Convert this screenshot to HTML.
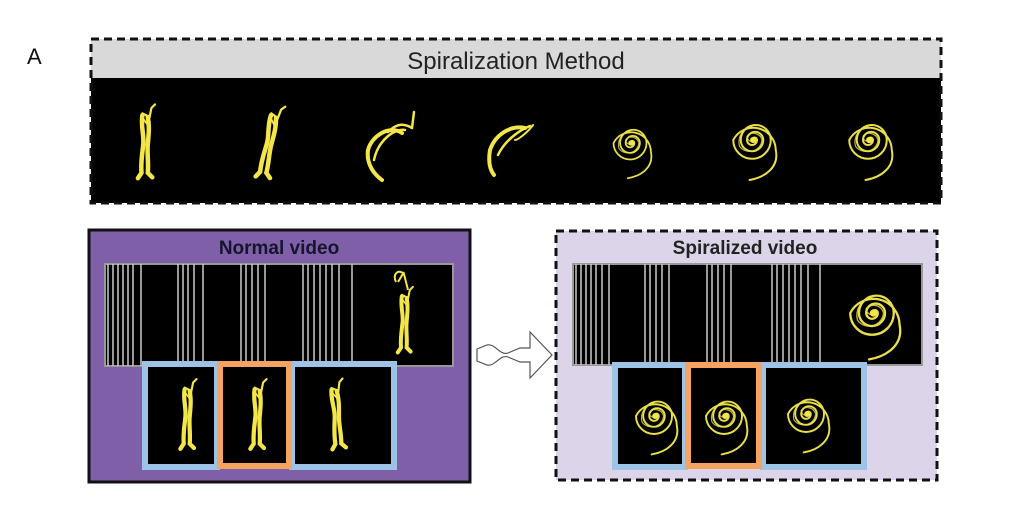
<!DOCTYPE html>
<html><head><meta charset="utf-8"><style>
html,body{margin:0;padding:0;background:#fff;}
svg{display:block;font-family:"Liberation Sans",sans-serif;}
</style></head><body>
<svg width="1014" height="518" viewBox="0 0 1014 518" xmlns="http://www.w3.org/2000/svg">
<defs>
  <g id="dancer" fill="none" stroke="#f3e64a" stroke-linecap="round">
    <path d="M-4 -42 C-6 -30 -2 -20 -3 -10 C-4 0 -6 10 -5 22 L-9 28" stroke-width="5"/>
    <path d="M2 -40 C4 -30 3 -20 2 -10 C1 0 3 10 2 22 L7 27" stroke-width="5"/>
    <path d="M-4 -44 L4 -40 L6 -50 L10 -54" stroke-width="2.5"/>
    <path d="M-3 -38 L4 -28 L3 -18" stroke-width="2"/>
  </g>
  <g id="spiral" fill="none" stroke="#e9df4a" stroke-linecap="round">
    <path d="M0 0 a2 2 0 0 1 4 0 a4 4 0 0 1 -8 0 a6.5 6.5 0 0 1 13 0 a9 9 0 0 1 -18 0 a12 12 0 0 1 24 0 a15 15 0 0 1 -30 0 a18 18 0 0 1 34 8 C 22 22 10 30 -2 32" stroke-width="1.6"/>
    <path d="M1 1 a4 4 0 0 1 -5 -4 a7 7 0 0 1 12 3 a10 10 0 0 1 -18 5 a13 13 0 0 1 10 -16" stroke-width="1" opacity="0.8"/>
    <circle cx="1" cy="0" r="2.5" fill="#f3e64a" stroke="none"/>
  </g>
</defs>

<text x="27" y="64" font-size="22" fill="#111">A</text>

<rect x="91" y="39" width="850" height="164" fill="#000"/>
<rect x="91" y="39" width="850" height="39" fill="#d9d9d9"/>
<rect x="91" y="39" width="850" height="164" fill="none" stroke="#111" stroke-width="3" stroke-dasharray="8 5"/>
<text x="516" y="69" font-size="24" text-anchor="middle" fill="#222">Spiralization Method</text>

<use href="#dancer" transform="translate(146,153) scale(0.9)"/>
<use href="#dancer" transform="translate(268,153) scale(0.9) rotate(10)"/>
<g fill="none" stroke="#f3e64a" stroke-linecap="round">
  <path d="M402 133 C390 125 372 135 368 150 C366 165 375 175 382 180" stroke-width="4"/>
  <path d="M405 130 C395 128 378 140 374 160" stroke-width="2.5"/>
  <path d="M412 128 C402 122 395 125 388 132 M412 128 L414 112" stroke-width="2.5"/>
  <path d="M525 128 C510 125 495 135 490 150 C488 162 490 170 494 175" stroke-width="4"/>
  <path d="M530 126 C520 130 505 140 498 155" stroke-width="2.5"/>
  <path d="M533 125 C528 132 518 140 515 140" stroke-width="2"/>
</g>
<use href="#spiral" transform="translate(630,143) scale(1.1)"/>
<use href="#spiral" transform="translate(752,140) scale(1.25)"/>
<use href="#spiral" transform="translate(868,140) scale(1.25)"/>

<rect x="89" y="230" width="381" height="252" fill="#7f5fa8" stroke="#111" stroke-width="3"/>
<text x="279" y="254" font-size="19" font-weight="bold" text-anchor="middle" fill="#15152e">Normal video</text>
<rect x="105" y="264" width="348" height="102" fill="#000" stroke="#999" stroke-width="2"/>
<g stroke="#ccc" stroke-width="1.5">
  <path d="M108 264V366M113 264V366M118 264V366M123 264V366M128 264V366M133 264V366M141 264V366"/>
  <path d="M178 264V366M183 264V366M188 264V366M194 264V366M203 264V366"/>
  <path d="M241 264V366M246 264V366M252 264V366M258 264V366M265 264V366"/>
  <path d="M303 264V366M308 264V366M314 264V366M320 264V366M326 264V366M332 264V366M339 264V366M352 264V366"/>
</g>
<use href="#dancer" transform="translate(405,330) scale(0.8)"/>
<path d="M396 282 C392 275 398 268 404 274 L408 290 M398 282 L404 272" fill="none" stroke="#f3e64a" stroke-width="2"/>
<rect x="145" y="364" width="72" height="103" fill="#000" stroke="#9dc3e6" stroke-width="6"/>
<rect x="292" y="364" width="102" height="103" fill="#000" stroke="#9dc3e6" stroke-width="6"/>
<rect x="220" y="364" width="69" height="102" fill="#000" stroke="#f4a460" stroke-width="6"/>
<use href="#dancer" transform="translate(188,425) scale(0.85)"/>
<use href="#dancer" transform="translate(258,425) scale(0.85)"/>
<use href="#dancer" transform="translate(338,425) scale(0.85) rotate(-5)"/>

<path d="M477 349 L487 345 C495 343 500 356 508 353 L520 348 L530 348 L530 332 L552 355 L530 378 L530 362 L520 362 L508 357 C500 354 495 367 487 365 L477 361 Z" fill="#fff" stroke="#555" stroke-width="1.2"/>

<rect x="556" y="231" width="381" height="249" fill="#dcd5ea" stroke="#111" stroke-width="3" stroke-dasharray="8 5"/>
<text x="745" y="254" font-size="19" font-weight="bold" text-anchor="middle" fill="#222">Spiralized video</text>
<rect x="573" y="264" width="349" height="101" fill="#000" stroke="#999" stroke-width="2"/>
<g stroke="#ccc" stroke-width="1.5">
  <path d="M576 264V365M581 264V365M586 264V365M591 264V365M596 264V365M602 264V365M609 264V365"/>
  <path d="M645 264V365M650 264V365M656 264V365M662 264V365M669 264V365"/>
  <path d="M707 264V365M712 264V365M718 264V365M724 264V365M731 264V365"/>
  <path d="M772 264V365M777 264V365M783 264V365M789 264V365M795 264V365M801 264V365M808 264V365M820 264V365"/>
</g>
<use href="#spiral" transform="translate(872,313) scale(1.45)"/>
<rect x="615" y="365" width="70" height="102" fill="#000" stroke="#9dc3e6" stroke-width="6"/>
<rect x="763" y="365" width="101" height="102" fill="#000" stroke="#9dc3e6" stroke-width="6"/>
<rect x="688" y="365" width="71" height="101" fill="#000" stroke="#f4a460" stroke-width="6"/>
<use href="#spiral" transform="translate(654,416) scale(1.2)"/>
<use href="#spiral" transform="translate(724,416) scale(1.2)"/>
<use href="#spiral" transform="translate(806,414) scale(1.2)"/>
</svg>
</body></html>
